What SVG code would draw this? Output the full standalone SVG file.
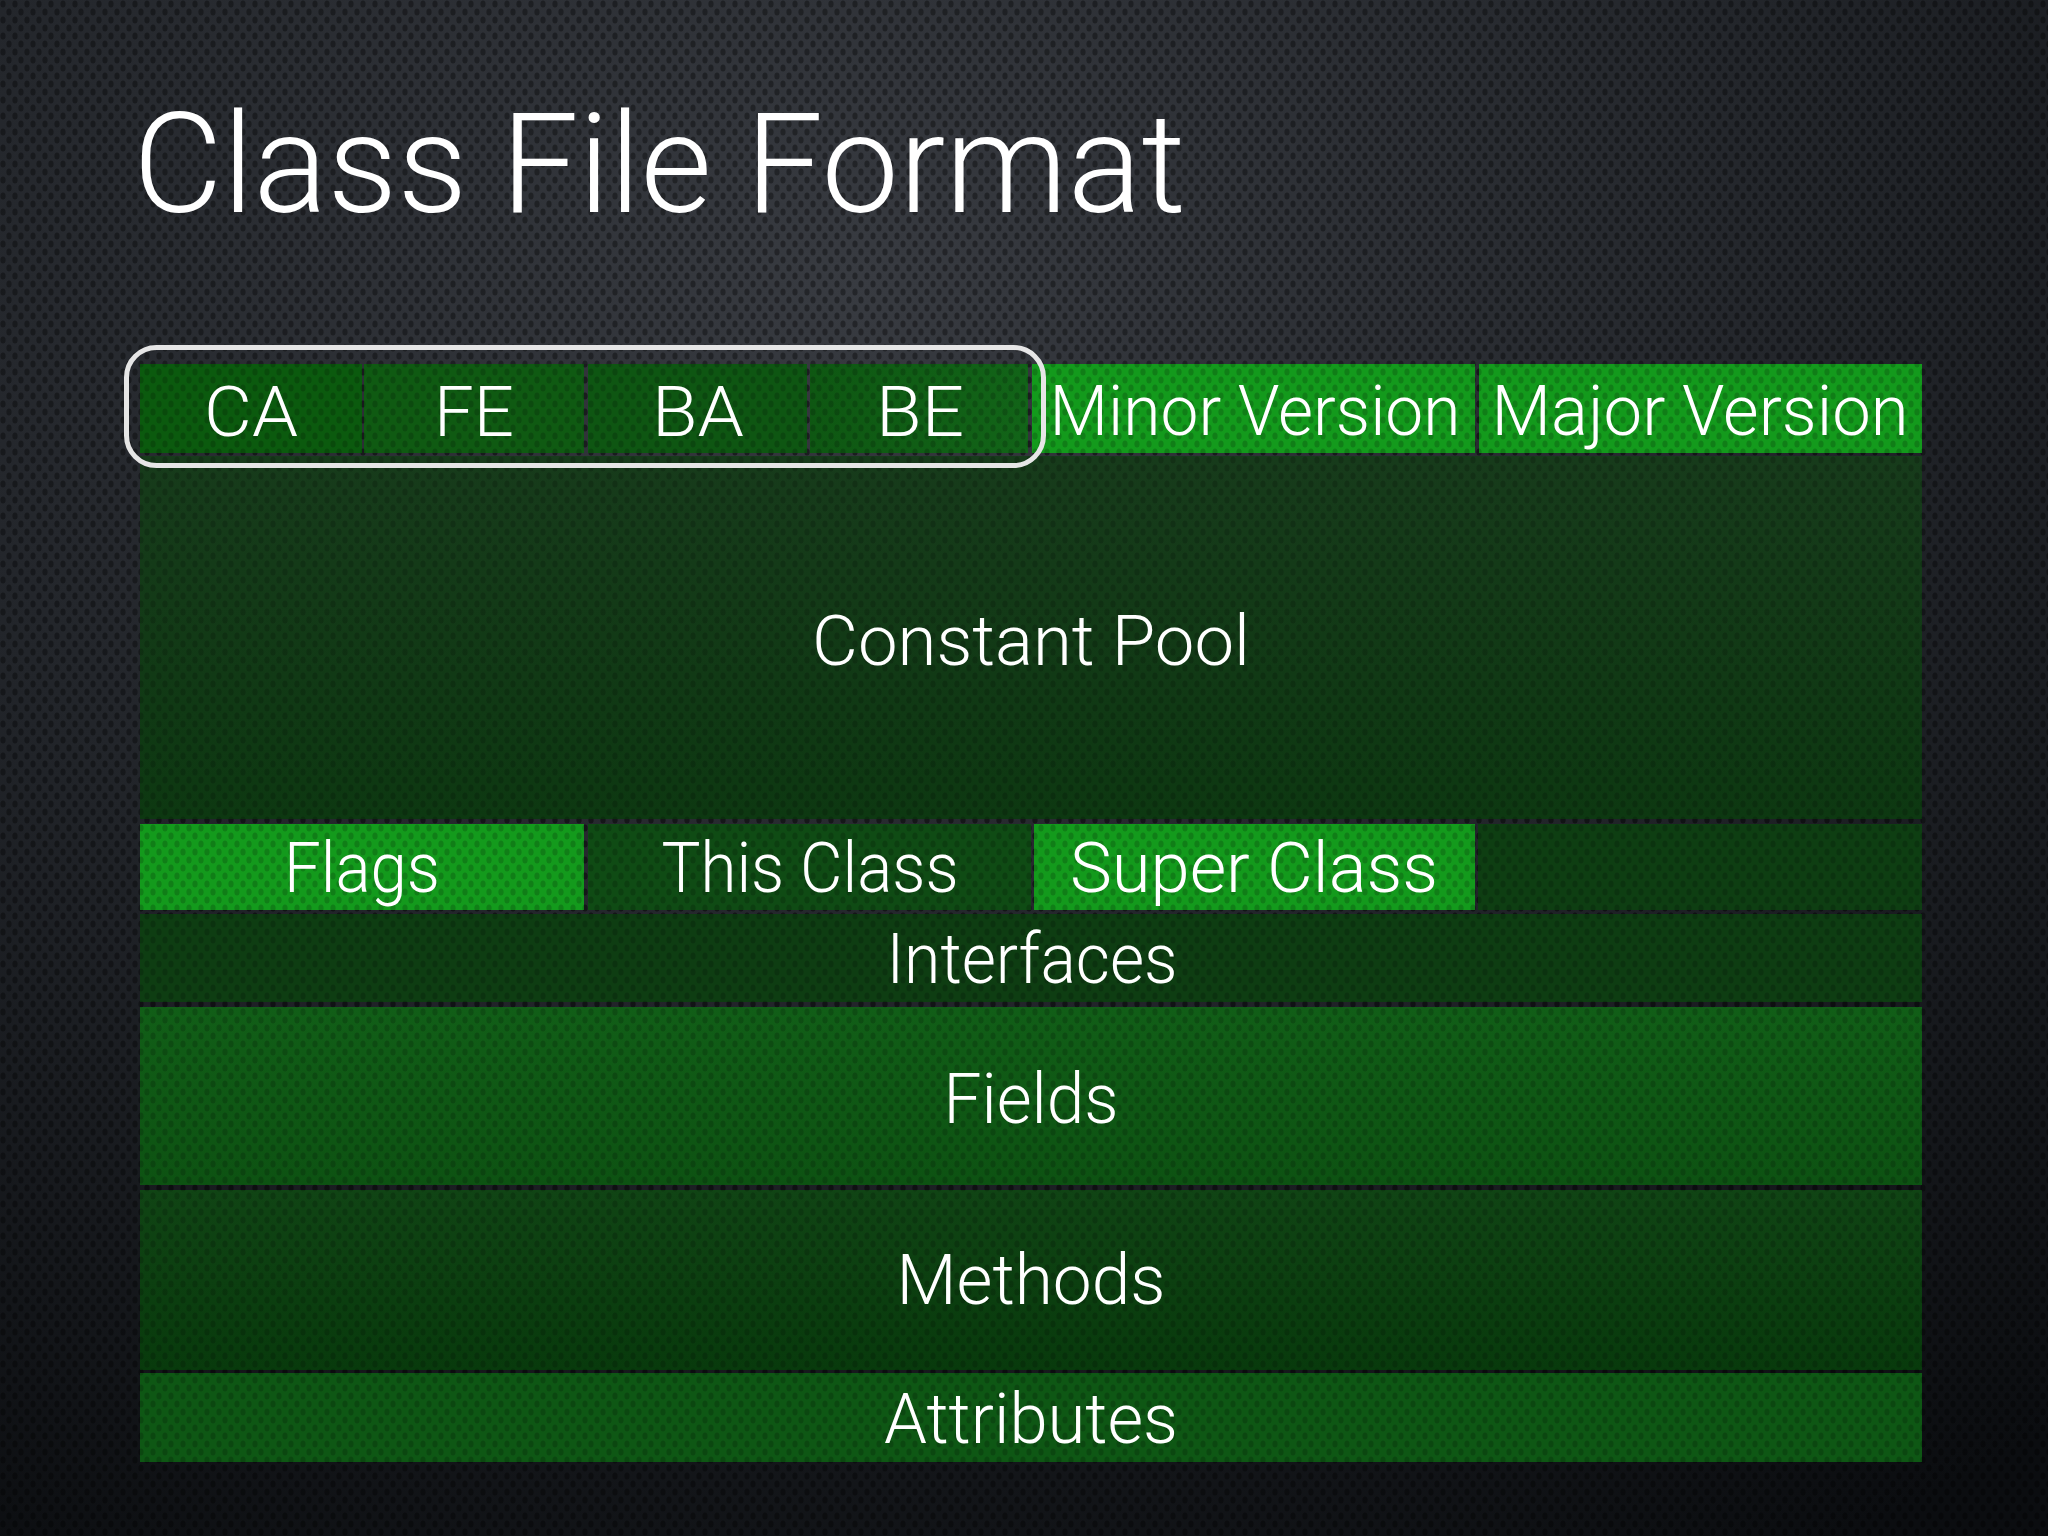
<svg xmlns="http://www.w3.org/2000/svg" width="2048" height="1536" viewBox="0 0 2048 1536">
<defs>
<radialGradient id="bg" cx="0.42" cy="0.18" r="0.95">
<stop offset="0" stop-color="#383b41"/>
<stop offset="0.5" stop-color="#22252a"/>
<stop offset="1" stop-color="#0b0d10"/>
</radialGradient>
<pattern id="mesh" width="12" height="16" patternUnits="userSpaceOnUse">
<ellipse cx="3" cy="4" rx="2.6" ry="3.6" fill="#000"/>
<ellipse cx="9" cy="12" rx="2.6" ry="3.6" fill="#000"/>
</pattern>
<linearGradient id="gPool" x1="0" y1="0" x2="0" y2="1">
<stop offset="0" stop-color="#173b1b"/>
<stop offset="1" stop-color="#0d3811"/>
</linearGradient>
<linearGradient id="gFields" x1="0" y1="0" x2="0" y2="1">
<stop offset="0" stop-color="#115e17"/>
<stop offset="1" stop-color="#0d5212"/>
</linearGradient>
<linearGradient id="gMethods" x1="0" y1="0" x2="0" y2="1">
<stop offset="0" stop-color="#104414"/>
<stop offset="1" stop-color="#083a0c"/>
</linearGradient>
<linearGradient id="gBE" x1="0" y1="0" x2="1" y2="0">
<stop offset="0" stop-color="#0e5712"/>
<stop offset="1" stop-color="#126418"/>
</linearGradient>
</defs>
<style>
.lbl{font-family:"Roboto","Liberation Sans",sans-serif;font-weight:300;font-size:70px;fill:#ffffff;text-anchor:middle}
.title{font-family:"Roboto","Liberation Sans",sans-serif;font-weight:300;font-size:140px;fill:#ffffff}
.bright{fill:#139a1c}
</style>
<rect x="0" y="0" width="2048" height="1536" fill="url(#bg)"/>
<rect x="0" y="0" width="2048" height="1536" fill="url(#mesh)" opacity="0.36"/>

<g id="title"><text class="title" x="133" y="212" textLength="1053" lengthAdjust="spacingAndGlyphs">Class File Format</text></g>

<g id="boxes">
<g id="ca"><rect x="140" y="364" width="222" height="89" fill="#0b5a0e"/></g>
<g id="fe"><rect x="364" y="364" width="220" height="89" fill="#0f5a12"/></g>
<g id="ba"><rect x="588" y="364" width="219" height="89" fill="#0e5612"/></g>
<g id="be"><rect x="810" y="364" width="218" height="89" fill="url(#gBE)"/></g>
<g id="minor"><rect class="bright" x="1032" y="364" width="443" height="89"/></g>
<g id="major"><rect class="bright" x="1479" y="364" width="443" height="89"/></g>
<g id="pool"><rect x="140" y="456" width="1782" height="363" fill="url(#gPool)"/></g>
<g id="flags"><rect class="bright" x="140" y="824" width="444" height="86"/></g>
<g id="thisclass"><rect x="588" y="824" width="443" height="86" fill="#0f4b14"/></g>
<g id="superclass"><rect class="bright" x="1034" y="824" width="441" height="86"/></g>
<g id="row3rest"><rect x="1478" y="824" width="444" height="86" fill="#0e3e12"/></g>
<g id="interfaces"><rect x="140" y="914" width="1782" height="88" fill="#0e3d12"/></g>
<g id="fields"><rect x="140" y="1007" width="1782" height="178" fill="url(#gFields)"/></g>
<g id="methods"><rect x="140" y="1190" width="1782" height="180" fill="url(#gMethods)"/></g>
<g id="attributes"><rect x="140" y="1373" width="1782" height="89" fill="#0e5714"/></g>
</g>
<rect x="140" y="364" width="1782" height="1098" fill="url(#mesh)" opacity="0.18"/>

<g id="magic"><rect x="126.5" y="347.5" width="917" height="118" rx="30" ry="30" fill="none" stroke="#e6e6e6" stroke-width="5"/></g>

<g id="labels">
<text class="lbl" x="251" y="436" textLength="94" lengthAdjust="spacingAndGlyphs">CA</text>
<text class="lbl" x="474" y="436" textLength="80" lengthAdjust="spacingAndGlyphs">FE</text>
<text class="lbl" x="698" y="436" textLength="92" lengthAdjust="spacingAndGlyphs">BA</text>
<text class="lbl" x="920" y="436" textLength="88" lengthAdjust="spacingAndGlyphs">BE</text>
<text class="lbl" x="1255" y="435" textLength="411" lengthAdjust="spacingAndGlyphs">Minor Version</text>
<text class="lbl" x="1700" y="435" textLength="417" lengthAdjust="spacingAndGlyphs">Major Version</text>
<text class="lbl" x="1031" y="665" textLength="438" lengthAdjust="spacingAndGlyphs">Constant Pool</text>
<text class="lbl" x="362" y="892" textLength="156" lengthAdjust="spacingAndGlyphs">Flags</text>
<text class="lbl" x="810" y="892" textLength="297" lengthAdjust="spacingAndGlyphs">This Class</text>
<text class="lbl" x="1254" y="892" textLength="368" lengthAdjust="spacingAndGlyphs">Super Class</text>
<text class="lbl" x="1032" y="983" textLength="291" lengthAdjust="spacingAndGlyphs">Interfaces</text>
<text class="lbl" x="1031" y="1123" textLength="175" lengthAdjust="spacingAndGlyphs">Fields</text>
<text class="lbl" x="1031" y="1304" textLength="269" lengthAdjust="spacingAndGlyphs">Methods</text>
<text class="lbl" x="1031" y="1443" textLength="294" lengthAdjust="spacingAndGlyphs">Attributes</text>
</g>
<g id="connectors"/>
</svg>
